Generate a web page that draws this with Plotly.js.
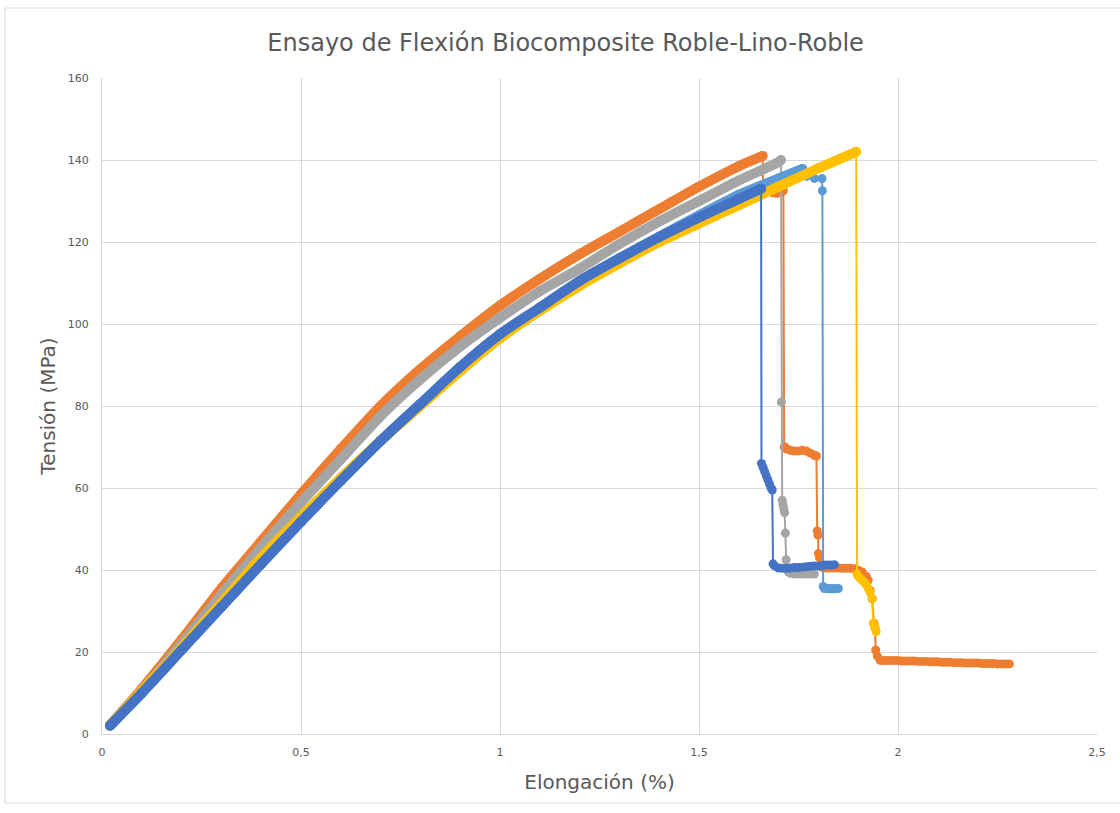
<!DOCTYPE html>
<html>
<head>
<meta charset="utf-8">
<script src="https://cdn.plot.ly/plotly-3.0.1.min.js"></script>
<style>
  html, body { margin: 0; padding: 0; background: #ffffff; }
  #chart { width: 1120px; height: 813px; }
</style>
</head>
<body>
<div id="chart"></div>
<script>
// ---- Data ----
// Dark blue series
const blueLoadX = [0.02, 0.1, 0.2, 0.3, 0.4, 0.5, 0.6, 0.7, 0.8, 0.9, 1.0, 1.1, 1.2, 1.3, 1.4, 1.5, 1.6, 1.656];
const blueLoadY = [2, 10, 20.5, 31, 41.5, 51.8, 61.8, 71.5, 80.5, 89.5, 97.5, 104, 110.5, 116, 121.2, 126, 130.5, 133];
const blueFailX = [1.657, 1.661, 1.665, 1.669, 1.673, 1.677, 1.681, 1.684, 1.686, 1.69, 1.70, 1.71, 1.72, 1.73, 1.74, 1.75, 1.76, 1.77, 1.78, 1.79, 1.80, 1.81, 1.82, 1.83, 1.84];
const blueFailY = [66, 65, 64, 63, 62, 61, 60, 59.5, 41.5, 41, 40.5, 40.4, 40.4, 40.5, 40.6, 40.6, 40.7, 40.8, 40.9, 41, 41, 41.1, 41.2, 41.2, 41.3];

// Orange series
const orangeLoadX = [0.02, 0.1, 0.2, 0.3, 0.4, 0.5, 0.6, 0.7, 0.8, 0.9, 1.0, 1.1, 1.2, 1.3, 1.4, 1.5, 1.6, 1.66];
const orangeLoadY = [2.2, 11, 23, 35.5, 47, 58.5, 69.5, 80, 89, 97, 104.5, 111, 117, 122.5, 128, 133.5, 138.5, 141];
const orangeFailX = [1.661, 1.665, 1.675, 1.685, 1.695, 1.705, 1.712, 1.714, 1.716, 1.72, 1.73, 1.74, 1.75, 1.76, 1.77, 1.78, 1.79, 1.795,
  1.797, 1.799, 1.80, 1.803, 1.806, 1.81, 1.82, 1.83, 1.84, 1.85, 1.86, 1.87, 1.88, 1.89, 1.90, 1.91, 1.92, 1.925, 1.93, 1.935, 1.94, 1.942, 1.944, 1.948, 1.955,
  1.96, 1.97, 1.98, 1.99, 2.0, 2.01, 2.02, 2.03, 2.04, 2.05, 2.06, 2.07, 2.08, 2.09, 2.10, 2.11, 2.12, 2.13, 2.14, 2.15, 2.16, 2.17, 2.18, 2.19, 2.20, 2.21, 2.22, 2.23, 2.24, 2.25, 2.26, 2.27, 2.28];
const orangeFailY = [134, 133, 132.5, 132, 131.8, 132, 132.5, 70, 70, 69.5, 69.2, 69, 69, 69.2, 69, 68.5, 68, 67.8,
  49.5, 48.5, 44, 43, 41, 40.6, 40.5, 40.5, 40.5, 40.5, 40.4, 40.4, 40.4, 40.3, 40, 39.5, 38.5, 37.5, 35, 33, 27, 26, 20.5, 19, 18,
  17.9, 17.9, 17.9, 17.9, 17.9, 17.8, 17.8, 17.8, 17.8, 17.7, 17.7, 17.7, 17.6, 17.6, 17.6, 17.5, 17.5, 17.5, 17.4, 17.4, 17.4, 17.3, 17.3, 17.3, 17.3, 17.2, 17.2, 17.2, 17.2, 17.1, 17.1, 17.1, 17.1];

// Gray series
const grayLoadX = [0.02, 0.1, 0.2, 0.3, 0.4, 0.5, 0.6, 0.7, 0.8, 0.9, 1.0, 1.1, 1.2, 1.3, 1.4, 1.5, 1.6, 1.7, 1.706];
const grayLoadY = [2, 10.5, 22, 34, 45.5, 56.5, 67, 77.5, 86.5, 94.5, 101.5, 108, 113.5, 119.5, 125, 130, 135, 139.5, 140];
const grayFailX = [1.707, 1.709, 1.711, 1.713, 1.715, 1.717, 1.719, 1.722, 1.725, 1.73, 1.74, 1.75, 1.76, 1.77, 1.78, 1.79];
const grayFailY = [81, 57, 56, 55, 54, 49, 42.5, 40, 39.5, 39.2, 39, 39, 39, 39, 39, 39];

// Light blue series
const lightLoadX = [0.02, 0.1, 0.2, 0.3, 0.4, 0.5, 0.6, 0.7, 0.8, 0.9, 1.0, 1.1, 1.2, 1.3, 1.4, 1.5, 1.6, 1.7, 1.76];
const lightLoadY = [2, 10, 20.5, 31, 41.5, 51.8, 61.8, 71.5, 80.5, 89.5, 97.5, 104, 110.5, 116, 121.3, 126.5, 131.5, 135.5, 137.8];
const lightFailX = [1.77, 1.79, 1.809, 1.81, 1.812, 1.815, 1.82, 1.825, 1.83, 1.835, 1.84, 1.845, 1.85];
const lightFailY = [136, 135.5, 135.5, 132.5, 36, 35.5, 35.5, 35.5, 35.4, 35.4, 35.4, 35.5, 35.5];

// Yellow series
const yellowLoadX = [0.02, 0.1, 0.2, 0.3, 0.4, 0.5, 0.6, 0.7, 0.8, 0.9, 1.0, 1.1, 1.2, 1.3, 1.4, 1.5, 1.6, 1.7, 1.8, 1.895];
const yellowLoadY = [2, 10.5, 21, 32, 43, 53, 62.5, 71.5, 80, 88.5, 96.5, 103.2, 109.3, 114.8, 120, 124.5, 129, 133.5, 138, 142];
const yellowFailX = [1.897, 1.90, 1.905, 1.91, 1.915, 1.92, 1.925, 1.93, 1.935, 1.938, 1.942, 1.945];
const yellowFailY = [39, 38.5, 38, 37.5, 37, 36.5, 35.5, 34.5, 33, 27, 26, 25];

const FONT = '"DejaVu Sans", Verdana, sans-serif';
const TEXT = '#595959';
const GRID = '#D9D9D9';

function series(color, loadX, loadY, failX, failY) {
  const band = {
    x: loadX, y: loadY, type: 'scatter', mode: 'lines+markers',
    line: { color: color, width: 10, shape: 'spline', smoothing: 0.7 },
    marker: { color: color, size: 10 },
    showlegend: false, hoverinfo: 'x+y'
  };
  const fx = [loadX[loadX.length - 1]].concat(failX);
  const fy = [loadY[loadY.length - 1]].concat(failY);
  const fail = {
    x: fx, y: fy, type: 'scatter', mode: 'lines+markers',
    line: { color: color, width: 2 },
    marker: { color: color, size: 9 },
    showlegend: false, hoverinfo: 'x+y'
  };
  return [band, fail];
}

const data = [].concat(
  series('#ED7D31', orangeLoadX, orangeLoadY, orangeFailX, orangeFailY),
  series('#A5A5A5', grayLoadX, grayLoadY, grayFailX, grayFailY),
  series('#5B9BD5', lightLoadX, lightLoadY, lightFailX, lightFailY),
  series('#FFC000', yellowLoadX, yellowLoadY, yellowFailX, yellowFailY),
  series('#4472C4', blueLoadX, blueLoadY, blueFailX, blueFailY)
);

const layout = {
  width: 1120, height: 813,
  margin: { l: 102, r: 23, t: 78, b: 79 },
  paper_bgcolor: '#ffffff', plot_bgcolor: '#ffffff',
  separators: ',.',
  font: { family: FONT, color: TEXT },
  title: {
    text: 'Ensayo de Flexión Biocomposite Roble-Lino-Roble',
    font: { family: FONT, size: 24, color: TEXT },
    x: 0.505, xref: 'container', xanchor: 'center',
    y: 0.948, yref: 'container', yanchor: 'middle'
  },
  xaxis: {
    range: [0, 2.5], tick0: 0, dtick: 0.5,
    showgrid: true, gridcolor: GRID, gridwidth: 1,
    showline: true, linecolor: GRID, linewidth: 1,
    zeroline: false, ticks: '',
    tickfont: { family: FONT, size: 11, color: TEXT },
    ticklabelstandoff: 8,
    title: { text: 'Elongación (%)', font: { family: FONT, size: 20, color: TEXT }, standoff: 16 }
  },
  yaxis: {
    range: [0, 160], tick0: 0, dtick: 20,
    showgrid: true, gridcolor: GRID, gridwidth: 1,
    showline: true, linecolor: GRID, linewidth: 1,
    zeroline: false, ticks: '',
    tickfont: { family: FONT, size: 11, color: TEXT },
    ticklabelstandoff: 10,
    title: { text: 'Tensión (MPa)', font: { family: FONT, size: 20, color: TEXT }, standoff: 6 }
  },
  shapes: [{
    type: 'rect', xref: 'paper', yref: 'paper',
    x0: (5 - 102) / 995, x1: (1125 - 102) / 995,
    y0: (734 - 803) / 656, y1: (734 - 8) / 656,
    line: { color: GRID, width: 1 }, fillcolor: 'rgba(0,0,0,0)', layer: 'below'
  }]
};

Plotly.newPlot('chart', data, layout, { displayModeBar: false, staticPlot: true });
</script>
</body>
</html>
